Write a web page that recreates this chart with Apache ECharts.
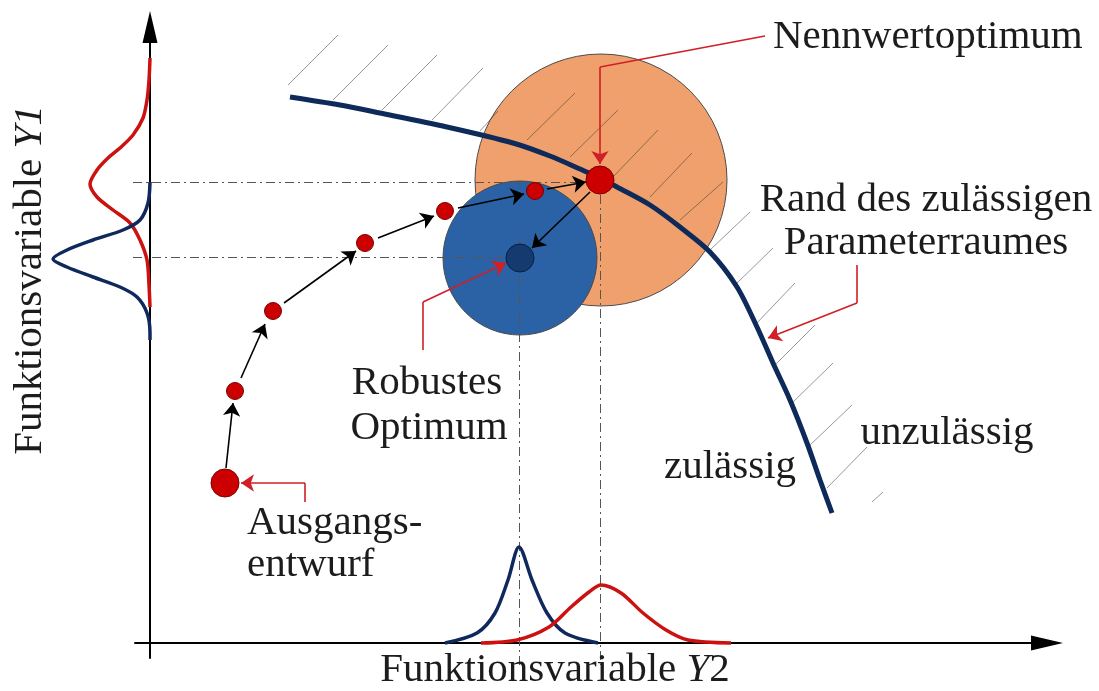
<!DOCTYPE html>
<html>
<head>
<meta charset="utf-8">
<script src="https://cdn.jsdelivr.net/npm/echarts@6/dist/echarts.min.js"></script>
<style>
  html, body { margin: 0; padding: 0; background: #fff; }
  #myChart { width: 1099px; height: 691px; }
</style>
</head>
<body>
<div id="myChart"></div>
<script>
// Koordinaten: Ursprung im Schnittpunkt der Achsen, 1 Einheit = 1 px
var tolerance = [
  { name: "Nennwert", center: [451, 463], diameter: 252, color: "#F0A06C" },
  { name: "Robust", center: [370, 385], diameter: 154, color: "#2B62A6" }
];

// Rand des zulaessigen Parameterraumes
var boundary = [
  [140, 546], [190, 538], [230, 530], [297, 516], [363, 500], [400, 487],
  [430, 474], [450, 465], [467, 456], [500, 438], [530, 416], [560, 391],
  [587, 356], [607, 316], [623, 280], [640, 243], [657, 200], [670, 163],
  [682, 130]
];

// Schraffur (unzulaessig)
var hatches = [
  [[138, 558], [188, 608]], [[183, 543], [238, 598]], [[232, 533], [287, 588]],
  [[282, 523], [333, 575]], [[330, 512], [348, 532]], [[377, 503], [425, 550]],
  [[420, 486], [468, 533]], [[463, 466], [508, 513]], [[500, 446], [542, 490]],
  [[530, 423], [573, 461]], [[560, 393], [600, 431]], [[585, 358], [623, 395]],
  [[605, 318], [645, 360]], [[625, 278], [665, 318]], [[642, 240], [683, 280]],
  [[658, 196], [702, 238]], [[677, 155], [717, 196]], [[722, 141], [733, 151]]
];

// Verteilungen an der Y1-Achse
var y1Nominal = [
  [0, 585], [-1, 563], [-3, 543], [-7, 525], [-17, 508], [-30, 495], [-42, 485],
  [-53, 473], [-60, 459], [-53, 446], [-37, 433], [-20, 420], [-10, 403],
  [-3, 383], [-1, 358], [0, 336]
];
var y1Robust = [
  [0, 461], [-2, 440], [-10, 423], [-27, 413], [-57, 403], [-83, 393], [-97, 384],
  [-83, 376], [-57, 366], [-30, 356], [-13, 346], [-3, 330], [0, 310], [0, 303]
];

// Verteilungen an der Y2-Achse
var y2Robust = [
  [295, 0], [327, 10], [345, 30], [358, 63], [369, 96], [382, 63], [397, 30],
  [415, 10], [448, 0]
];
var y2Nominal = [
  [331, 0], [367, 3], [399, 16], [421, 36], [439, 51], [451, 58], [471, 50],
  [493, 30], [516, 13], [538, 3], [581, 0]
];

// Optimierungsschritte
var steps = [[85, 252], [123, 332], [215, 400], [295, 432], [385, 452]];
var startPoint = [75, 160];
var nominalPoint = [450, 463];
var robustPoint = [370, 385];

var stepArrows = [
  [[76, 175], [83, 240]], [[91, 265], [115, 319]], [[134, 340], [206, 392]],
  [[228, 405], [284, 427]], [[308, 435], [374, 449]], [[397, 454], [436, 461]],
  [[440, 451], [382, 395]]
];

// Hilfslinien (strichpunktiert)
var guides = [
  [[-17, 461], [438, 461]], [[-17, 386], [356, 386]],
  [[369, 405], [369, -22]], [[450, 448], [450, -22]]
];

// Hinweislinien (rot)
var leaderLines = [
  [[615, 607], [450, 576]], [[273, 293], [273, 341]],
  [[155, 141], [155, 160]], [[707, 378], [707, 340]]
];
var leaderArrows = [
  [[450, 576], [450, 479]], [[273, 341], [356, 380]],
  [[155, 160], [91, 160]], [[707, 340], [618, 305]]
];

var serif = "'Liberation Serif', 'DejaVu Serif', serif";
var txt = "#1c1c1c";
var fontSize = "41px ";

function toLines(list) {
  return list.map(function (c) { return { coords: c }; });
}

function label(text, x, y, align) {
  return {
    type: "text", x: x, y: y, z: 100,
    style: {
      text: text, font: fontSize + serif, fill: txt,
      align: align || "center", verticalAlign: "middle"
    }
  };
}

function curve(data, color) {
  return {
    type: "line", z: 6, clip: false, showSymbol: false, smooth: 0.3, silent: true,
    lineStyle: { color: color, width: 3.5 }, data: data
  };
}

var hidden = {
  axisLine: { show: false }, axisTick: { show: false },
  axisLabel: { show: false }, splitLine: { show: false }
};
var arrowAxis = {
  show: true, onZero: true,
  symbol: ["none", "triangle"], symbolSize: [15, 32],
  lineStyle: { color: "#000", width: 2 }
};

var myChart = echarts.init(document.getElementById("myChart"));
myChart.setOption({
  animation: false,
  grid: [
    { left: 0, right: 0, top: 0, bottom: 0 },
    { left: 135, right: 52, top: 27, bottom: 33 }
  ],
  xAxis: [
    Object.assign({ type: "value", min: -150, max: 949, gridIndex: 0 }, hidden),
    {
      type: "value", min: -15, max: 897, gridIndex: 1, axisLine: arrowAxis,
      axisTick: { show: false }, axisLabel: { show: false }, splitLine: { show: false }
    }
  ],
  yAxis: [
    Object.assign({ type: "value", min: -48, max: 643, gridIndex: 0 }, hidden),
    {
      type: "value", min: -15, max: 616, gridIndex: 1, axisLine: arrowAxis,
      axisTick: { show: false }, axisLabel: { show: false }, splitLine: { show: false }
    }
  ],
  series: [
    {
      type: "scatter", z: 1, clip: false, silent: true,
      data: tolerance.map(function (t) {
        return {
          value: t.center, symbolSize: t.diameter,
          itemStyle: { color: t.color, borderColor: "#4a4a4a", borderWidth: 1, opacity: 1 }
        };
      })
    },
    {
      type: "lines", z: 3, coordinateSystem: "cartesian2d", clip: false, silent: true,
      lineStyle: { color: "rgba(50,50,50,0.5)", width: 1, opacity: 1 },
      data: toLines(hatches)
    },
    {
      type: "lines", z: 4, coordinateSystem: "cartesian2d", clip: false, silent: true,
      lineStyle: { color: "#555", width: 1, type: [9, 4, 2, 4], opacity: 1 },
      data: toLines(guides)
    },
    {
      type: "line", z: 5, clip: false, showSymbol: false, smooth: 0.3, silent: true,
      lineStyle: { color: "#0E2A5A", width: 5 },
      data: boundary
    },
    curve(y1Nominal, "#CC1111"),
    curve(y1Robust, "#10295C"),
    curve(y2Robust, "#10295C"),
    curve(y2Nominal, "#CC1111"),
    {
      type: "lines", z: 7, coordinateSystem: "cartesian2d", clip: false, silent: true,
      symbol: ["none", "arrow"], symbolSize: 13,
      lineStyle: { color: "#000", width: 1.6, opacity: 1 },
      data: toLines(stepArrows)
    },
    {
      type: "scatter", z: 8, clip: false, silent: true,
      itemStyle: { color: "#CC0000", borderColor: "#7a0000", borderWidth: 1, opacity: 1 },
      data: [
        { value: startPoint, symbolSize: 28 },
        { value: nominalPoint, symbolSize: 28 }
      ].concat(steps.map(function (p) { return { value: p, symbolSize: 17 }; }))
        .concat([{
          value: robustPoint, symbolSize: 28,
          itemStyle: { color: "#143A70", borderColor: "#0a1f40" }
        }])
    },
    {
      type: "lines", z: 9, coordinateSystem: "cartesian2d", clip: false, silent: true,
      lineStyle: { color: "#D01F26", width: 1.6, opacity: 1 },
      data: toLines(leaderLines)
    },
    {
      type: "lines", z: 9, coordinateSystem: "cartesian2d", clip: false, silent: true,
      symbol: ["none", "arrow"], symbolSize: 13,
      lineStyle: { color: "#D01F26", width: 1.6, opacity: 1 },
      data: toLines(leaderArrows)
    }
  ],
  graphic: [
    label("Nennwertoptimum", 773, 37, "left"),
    label("Rand des zulässigen", 926, 200),
    label("Parameterraumes", 926, 243),
    label("unzulässig", 947, 433),
    label("zulässig", 730, 467),
    label("Robustes", 427, 383),
    label("Optimum", 429, 428),
    label("Ausgangs-", 247, 523, "left"),
    label("entwurf", 247, 565, "left"),
    {
      type: "text", x: 555, y: 670, z: 100,
      style: {
        text: "{n|Funktionsvariable }{i|Y}{n|2}",
        align: "center", verticalAlign: "middle",
        rich: {
          n: { font: fontSize + serif, fill: txt },
          i: { font: "italic " + fontSize + serif, fill: txt }
        }
      }
    },
    {
      type: "text", x: 30, y: 280, z: 100, rotation: Math.PI / 2,
      style: {
        text: "{n|Funktionsvariable }{i|Y1}",
        align: "center", verticalAlign: "middle",
        rich: {
          n: { font: fontSize + serif, fill: txt },
          i: { font: "italic " + fontSize + serif, fill: txt }
        }
      }
    }
  ]
});
</script>
</body>
</html>
